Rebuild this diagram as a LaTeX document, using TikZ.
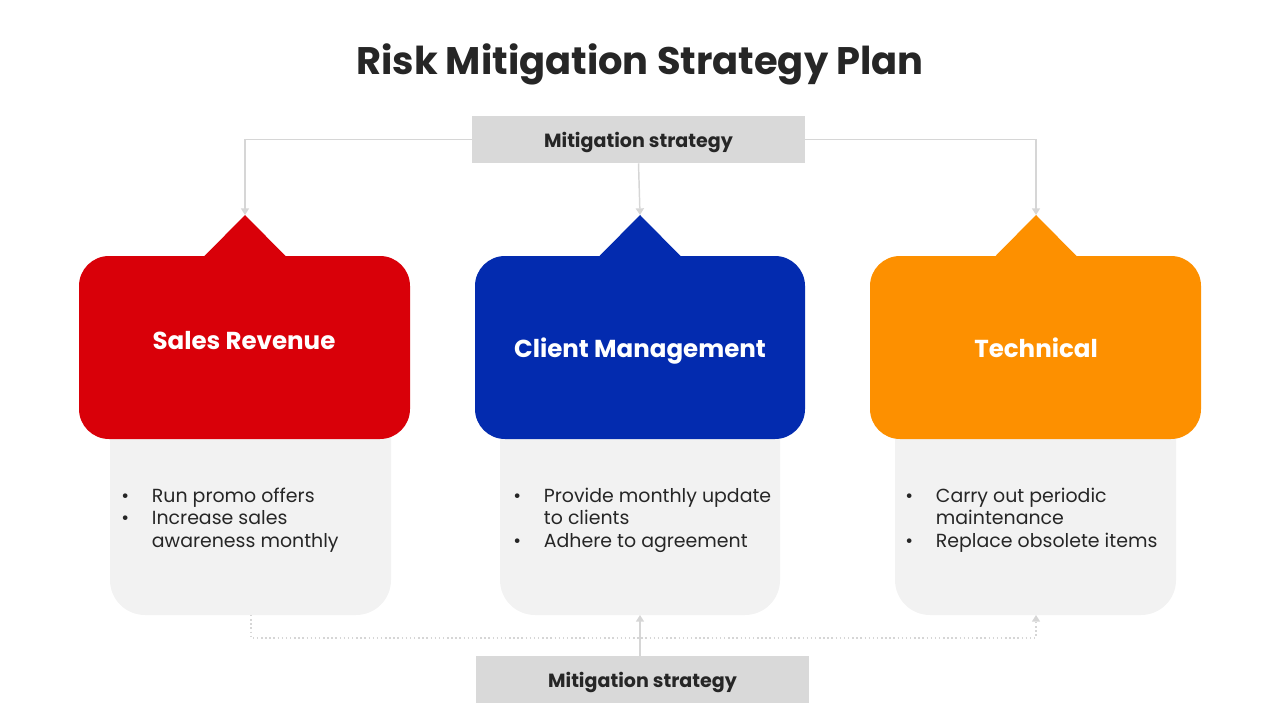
\documentclass[tikz,border=0pt]{standalone}
\usepackage{fontspec}
\setmainfont{Poppins}
\usetikzlibrary{arrows.meta}
\definecolor{cred}{HTML}{D90009}
\definecolor{cblue}{HTML}{032BAF}
\definecolor{corange}{HTML}{FD9000}
\definecolor{cgraybox}{HTML}{D9D9D9}
\definecolor{clight}{HTML}{F2F2F2}
\definecolor{cline}{HTML}{D6D6D6}
\definecolor{cdark}{HTML}{262626}
\tikzset{
  titletext/.style={font=\fontsize{28.8}{32}\selectfont\bfseries, text=cdark},
  labelbox/.style={fill=cgraybox, minimum width=333*0.75pt, minimum height=47*0.75pt, inner sep=0pt},
  labeltext/.style={font=\fontsize{14.3}{16}\selectfont\bfseries, text=cdark, inner sep=0pt},
  cardtext/.style={font=\fontsize{18.4}{21}\selectfont\bfseries, text=white},
  bultext/.style={font=\fontsize{14.2}{16.9}\selectfont, text=cdark, inner sep=0pt, anchor=base west},
  conn/.style={draw=cline, line width=1.1pt, -{Triangle[width=6pt,length=5pt]}},
  dotconn/.style={draw=cline, line width=1.1pt, dotted, -{Triangle[width=6pt,length=5pt]}},
}
\newcommand{\bulrow}{\textbullet}
\begin{document}
\begin{tikzpicture}[x=0.75pt,y=-0.75pt]
\useasboundingbox (0,0) rectangle (1280,720);
\node[titletext] (title) at (640,64.5) {Risk Mitigation Strategy Plan};

% light gray lower boxes
\fill[clight, rounded corners=35*0.75pt] (110,350) -- (110,615) -- (391,615) -- (391,350) -- cycle;
\fill[clight, rounded corners=35*0.75pt] (500,350) -- (500,615) -- (780,615) -- (780,350) -- cycle;
\fill[clight, rounded corners=35*0.75pt] (895,350) -- (895,615) -- (1176,615) -- (1176,350) -- cycle;
\coordinate (g1) at (251,615);
\coordinate (g2) at (640,615);
\coordinate (g3) at (1036,615);

% cards
\fill[cred, rounded corners=30*0.75pt] (79,256) rectangle (410,439);
\fill[cred] (204,256.5) -- (245,215) -- (286,256.5) -- cycle;
\fill[cblue, rounded corners=30*0.75pt] (475,256) rectangle (805,439);
\fill[cblue] (599,256.5) -- (640,215) -- (681,256.5) -- cycle;
\fill[corange, rounded corners=30*0.75pt] (870,256) rectangle (1201,439);
\fill[corange] (995,256.5) -- (1036,215) -- (1077,256.5) -- cycle;
\coordinate (a1) at (245,215);
\coordinate (a2) at (640,215);
\coordinate (a3) at (1036,215);

\node[cardtext] (c1) at (244,341) {Sales Revenue};
\node[cardtext] (c2) at (640,351) {Client Management};
\node[cardtext] (c3) at (1036,348) {Technical};

% bullets
\node[bultext] (t1) at (121,502) {\begin{tabular}[t]{@{}p{23pt}@{}l@{}}\bulrow & Run promo offers\\ \bulrow & Increase sales\\ & awareness monthly\end{tabular}};
\node[bultext] (t2) at (513,502) {\begin{tabular}[t]{@{}p{23pt}@{}l@{}}\bulrow & Provide monthly update\\ & to clients\\ \bulrow & Adhere to agreement\end{tabular}};
\node[bultext] (t3) at (905,502) {\begin{tabular}[t]{@{}p{23pt}@{}l@{}}\bulrow & Carry out periodic\\ & maintenance\\ \bulrow & Replace obsolete items\end{tabular}};

% top label and connectors
\node[labelbox] (top) at (638.5,139.5) {};
\node[labeltext] (toptext) at ([yshift=-2.4pt]top.center) {Mitigation strategy};
\draw[conn] (top.west) -| (a1);
\draw[conn] (top.south) -- (a2);
\draw[conn] (top.east) -| (a3);

% bottom label and connectors
\node[labelbox] (bot) at (642.5,679.5) {};
\node[labeltext] (bottext) at ([yshift=-2.4pt]bot.center) {Mitigation strategy};
\coordinate (d1) at (251,638);
\coordinate (d3) at (1036,638);
\draw[dotconn] (g1) -- (d1) -- (d3) -- (g3);
\draw[conn] (bot.north -| g2) -- (g2);
\end{tikzpicture}
\end{document}
